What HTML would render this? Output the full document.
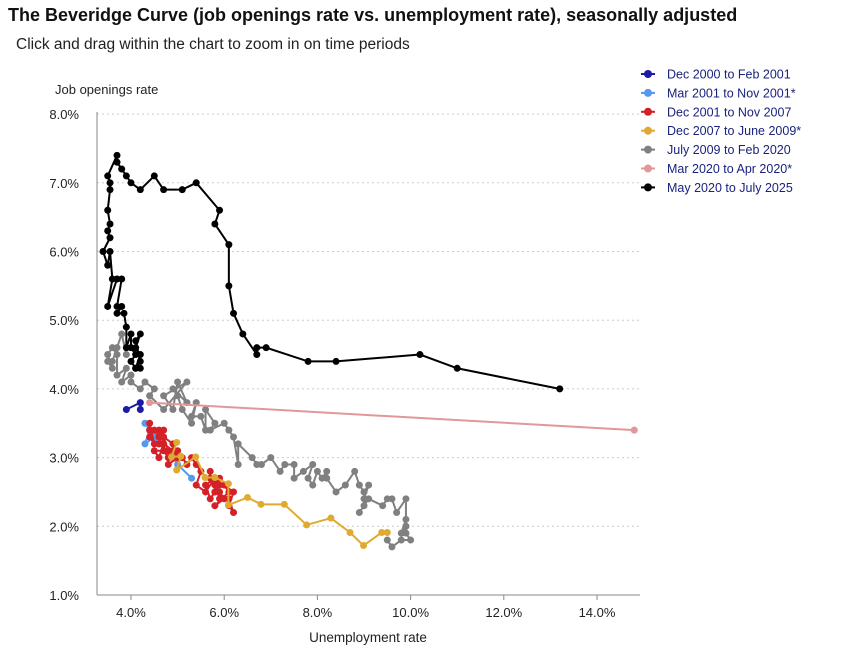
<!DOCTYPE html>
<html><head><meta charset="utf-8"><style>
body{margin:0;background:#fff;font-family:"Liberation Sans",sans-serif;}
svg text{font-family:"Liberation Sans",sans-serif;}
</style></head><body>
<svg id="c" width="853" height="653" xmlns="http://www.w3.org/2000/svg">
<text x="8" y="21" font-size="18" font-weight="bold" fill="#111">The Beveridge Curve (job openings rate vs. unemployment rate), seasonally adjusted</text>
<text x="16" y="49" font-size="15.5" fill="#222">Click and drag within the chart to zoom in on time periods</text>
<text x="55" y="94" font-size="13" fill="#222">Job openings rate</text>
<text x="368" y="642" font-size="13.5" fill="#222" text-anchor="middle">Unemployment rate</text>
<g id="grid"></g><g id="axes"></g><g id="series"></g><g id="legend"></g>
</svg>
<script>
const yTicks=[1,2,3,4,5,6,7,8];
const xTicks=[4,6,8,10,12,14];
const seriesNames=["Dec 2000 to Feb 2001","Mar 2001 to Nov 2001*","Dec 2001 to Nov 2007","Dec 2007 to June 2009*","July 2009 to Feb 2020","Mar 2020 to Apr 2020*","May 2020 to July 2025"];
const seriesColors=["#1a1aa6","#5599ee","#d42027","#e0aa30","#808080","#e09898","#000000"];
const s0=[[3.9,3.7],[4.2,3.8],[4.2,3.7]];
const s1=[[4.3,3.5],[4.4,3.4],[4.3,3.2],[4.5,3.3],[4.6,3.2],[4.9,3.0],[5.0,2.9],[5.3,2.7]];
const s2=[[5.7,2.8],[5.7,2.7],[5.9,2.6],[5.8,2.5],[5.9,2.7],[5.8,2.6],[5.9,2.4],[5.9,2.5],[6.0,2.4],[5.8,2.3],[6.1,2.5],[6.0,2.6],[6.2,2.5],[6.1,2.3],[6.2,2.2],[6.1,2.4],[5.8,2.5],[5.7,2.4],[5.6,2.6],[5.8,2.7],[5.6,2.5],[5.4,2.6],[5.5,2.8],[5.4,2.9],[5.3,3.0],[5.2,2.9],[5.1,3.0],[5.0,3.1],[5.0,3.0],[4.9,3.2],[4.7,3.3],[4.8,3.1],[4.6,3.2],[4.7,3.4],[4.6,3.3],[4.5,3.4],[4.4,3.3],[4.5,3.2],[4.4,3.5],[4.4,3.4],[4.6,3.4],[4.7,3.2],[4.6,3.0],[4.5,3.1],[4.7,3.1],[4.8,3.0],[4.8,2.9],[5.0,3.0],[4.9,3.1],[4.7,3.2]];
const s3=[[4.98,3.22],[4.87,3.01],[5.07,3.02],[4.98,2.82],[5.39,3.01],[5.59,2.71],[5.8,2.71],[6.09,2.62],[6.09,2.31],[6.5,2.42],[6.79,2.32],[7.29,2.32],[7.77,2.02],[8.29,2.12],[8.7,1.91],[8.99,1.72],[9.38,1.91],[9.5,1.91]];
const s4=[[9.5,1.8],[9.6,1.7],[9.8,1.8],[10.0,1.8],[9.9,1.9],[9.9,2.0],[9.8,1.9],[9.9,2.1],[9.9,2.0],[9.9,2.4],[9.7,2.2],[9.6,2.4],[9.5,2.4],[9.4,2.3],[9.1,2.4],[8.9,2.2],[9.0,2.3],[9.0,2.4],[9.1,2.6],[9.0,2.5],[8.9,2.6],[8.8,2.8],[8.6,2.6],[8.4,2.5],[8.2,2.7],[8.2,2.8],[8.1,2.7],[8.0,2.8],[7.9,2.6],[7.8,2.7],[7.9,2.9],[7.7,2.8],[7.5,2.7],[7.5,2.9],[7.3,2.9],[7.2,2.8],[7.0,3.0],[6.8,2.9],[6.7,2.9],[6.6,3.0],[6.3,3.2],[6.3,2.9],[6.2,3.3],[6.1,3.4],[6.0,3.5],[5.7,3.4],[5.8,3.5],[5.6,3.7],[5.6,3.4],[5.5,3.6],[5.3,3.6],[5.4,3.8],[5.3,3.5],[5.1,3.7],[5.0,3.9],[4.9,4.0],[5.2,3.8],[5.0,4.1],[4.9,3.7],[4.7,3.9],[5.2,4.1],[4.7,3.7],[4.4,3.9],[4.5,4.0],[4.3,4.1],[4.2,4.0],[4.0,4.1],[4.0,4.2],[3.8,4.1],[3.9,4.3],[3.7,4.2],[3.7,4.5],[3.6,4.6],[3.5,4.5],[3.6,4.3],[3.5,4.4],[3.6,4.4],[3.7,4.6],[3.8,4.8],[3.9,4.5]];
const s5=[[4.4,3.8],[14.8,3.4]];
const s6=[[13.2,4.0],[11.0,4.3],[10.2,4.5],[8.4,4.4],[7.8,4.4],[6.9,4.6],[6.7,4.6],[6.7,4.5],[6.4,4.8],[6.2,5.1],[6.1,5.5],[6.1,6.1],[5.8,6.4],[5.9,6.6],[5.4,7.0],[5.1,6.9],[4.7,6.9],[4.5,7.1],[4.2,6.9],[4.0,7.0],[3.9,7.1],[3.8,7.2],[3.7,7.3],[3.7,7.4],[3.5,7.1],[3.55,7.0],[3.55,6.9],[3.5,6.6],[3.55,6.4],[3.5,6.3],[3.55,6.2],[3.4,6.0],[3.5,5.8],[3.55,6.0],[3.6,5.6],[3.5,5.2],[3.7,5.6],[3.8,5.6],[3.7,5.2],[3.8,5.2],[3.7,5.1],[3.85,5.1],[3.9,4.9],[3.9,4.6],[4.0,4.8],[4.0,4.6],[4.1,4.5],[4.0,4.4],[4.1,4.3],[4.2,4.5],[4.1,4.6],[4.2,4.8],[4.1,4.7],[4.2,4.4],[4.1,4.3],[4.2,4.3]];
const allSeries=[s0,s1,s2,s3,s4,s5,s6];
const NS="http://www.w3.org/2000/svg";
function xs(u){return 131+(u-4)*46.6;}
function ys(v){return 595-(v-1)*68.7;}
function mk(tag,attrs,parent){const e=document.createElementNS(NS,tag);for(const k in attrs)e.setAttribute(k,attrs[k]);parent.appendChild(e);return e;}
const grid=document.getElementById('grid'),axes=document.getElementById('axes'),ser=document.getElementById('series'),leg=document.getElementById('legend');
yTicks.forEach(v=>{
  if(v>1){const g=mk('line',{x1:97,x2:640,y1:ys(v),y2:ys(v),stroke:'#ccc','stroke-dasharray':'2,3'},grid);
  
  }
  const t=mk('text',{x:79,y:ys(v)+5,'font-size':13,fill:'#222','text-anchor':'end'},axes);t.textContent=v.toFixed(1)+'%';
  
  
});
xTicks.forEach(u=>{
  mk('line',{x1:xs(u),x2:xs(u),y1:595,y2:600,stroke:'#888'},axes);
  const t=mk('text',{x:xs(u),y:617,'font-size':13,fill:'#222','text-anchor':'middle'},axes);t.textContent=u.toFixed(1)+'%';
  
  
});
const ya=mk('line',{x1:97,x2:97,y1:112,y2:595,stroke:'#888'},axes);


const xa=mk('line',{x1:97,x2:640,y1:595,y2:595,stroke:'#888'},axes);


allSeries.forEach((d,i)=>{
  const g=mk('g',{},ser);
  
  
  const p=mk('polyline',{points:d.map(q=>xs(q[0])+','+ys(q[1])).join(' '),fill:'none',stroke:seriesColors[i],'stroke-width':2},g);
  
  
  d.forEach(q=>{const c=mk('circle',{cx:xs(q[0]),cy:ys(q[1]),r:3.5,fill:seriesColors[i]},g);
    
    });
  const ly=74+i*18.9;
  const lg=mk('g',{},leg);
  
  
  mk('line',{x1:641,x2:655,y1:ly,y2:ly,stroke:seriesColors[i],'stroke-width':2},lg);
  mk('circle',{cx:648,cy:ly,r:4,fill:seriesColors[i]},lg);
  const t=mk('text',{x:667,y:ly+4.5,'font-size':12.5,fill:'#1a237e'},lg);t.textContent=seriesNames[i];
});
</script>
</body></html>
